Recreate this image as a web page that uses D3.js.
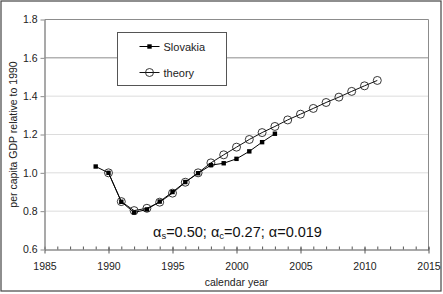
<!DOCTYPE html>
<html>
<head>
<meta charset="utf-8">
<script src="https://cdn.jsdelivr.net/npm/d3@7"></script>
<style>
  body { margin: 0; background: #fff; }
  svg { display: block; font-family: "Liberation Sans", Arial, sans-serif; }
</style>
</head>
<body>
<div class="chart"></div>
<script>
// Slovakia per capita GDP vs. theory

const slovakYears = [1989, 1990, 1991, 1992, 1993, 1994, 1995, 1996, 1997, 1998, 1999, 2000, 2001, 2002, 2003]
const slovakGdp = [1.033, 1.00, 0.849, 0.793, 0.809, 0.85, 0.90, 0.952, 0.998, 1.040, 1.050, 1.073, 1.112, 1.160, 1.204]

const theoryYears = [1990, 1991, 1992, 1993, 1994, 1995, 1996, 1997, 1998, 1999, 2000, 2001, 2002, 2003, 2004, 2005, 2006, 2007, 2008, 2009, 2010, 2011]
const theoryGdp = [1.00, 0.85, 0.803, 0.815, 0.847, 0.894, 0.951, 1.00, 1.052, 1.094, 1.134, 1.174, 1.210, 1.242, 1.276, 1.306, 1.336, 1.367, 1.395, 1.425, 1.454, 1.482]

const xTicks = [1985, 1990, 1995, 2000, 2005, 2010, 2015]
const yTicks = [0.6, 0.8, 1.0, 1.2, 1.4, 1.6, 1.8]

const svgWidth = 443
const svgHeight = 294
const margin = { top: 19.5, right: 14.5, bottom: 44.5, left: 44.5 }
const width = svgWidth - margin.left - margin.right
const height = svgHeight - margin.top - margin.bottom

const svg = d3.select('.chart').append('svg')
    .attr('width', svgWidth)
    .attr('height', svgHeight)

// outer frame
svg.append('rect')
    .attr('x', 1).attr('y', 1)
    .attr('width', 440).attr('height', 290)
    .attr('fill', 'none')
    .attr('stroke', '#444')
    .attr('stroke-width', 1.2)

const chartGroup = svg.append('g')
    .attr('transform', `translate(${margin.left}, ${margin.top})`)

const xScale = d3.scaleLinear().domain([1985, 2015]).range([0, width])
const yScale = d3.scaleLinear().domain([0.6, 1.8]).range([height, 0])

// gridlines
chartGroup.selectAll('.grid')
    .data(yTicks.slice(1))
    .enter()
    .append('line')
    .attr('x1', 0).attr('x2', width)
    .attr('y1', d => yScale(d)).attr('y2', d => yScale(d))
    .attr('stroke', d => d >= 1.6 ? '#8c8c8c' : '#dcdcdc')
    .attr('stroke-width', 1)

// right border of plot
chartGroup.append('line')
    .attr('x1', width).attr('x2', width)
    .attr('y1', 0).attr('y2', height)
    .attr('stroke', '#8c8c8c')

// minor x ticks, every year, pointing up
chartGroup.append('g')
    .attr('transform', `translate(0, ${height})`)
    .call(d3.axisBottom(xScale).ticks(30).tickSizeInner(-3).tickSizeOuter(0).tickFormat(''))
    .call(g => g.select('.domain').remove())
    .call(g => g.selectAll('line').attr('stroke', '#555'))

// major x axis
const xAxis = chartGroup.append('g')
    .attr('transform', `translate(0, ${height})`)
    .call(d3.axisBottom(xScale).tickValues(xTicks).tickFormat(d3.format('d')).tickSizeInner(4).tickSizeOuter(0).tickPadding(9))
xAxis.select('.domain').attr('stroke', '#555')
xAxis.selectAll('line').attr('stroke', '#555').attr('y1', -2)
xAxis.selectAll('text').attr('font-size', '10.5px').attr('fill', '#222').attr('font-family', null)

// y axis
const yAxis = chartGroup.append('g')
    .call(d3.axisLeft(yScale).tickValues(yTicks).tickFormat(d3.format('.1f')).tickSizeInner(4).tickSizeOuter(0).tickPadding(3))
yAxis.select('.domain').attr('stroke', '#8c8c8c').attr('stroke-width', 1.5)
yAxis.selectAll('line').attr('stroke', '#8c8c8c')
yAxis.selectAll('text').attr('font-size', '10.5px').attr('fill', '#222').attr('font-family', null)

// theory series
const theoryData = theoryYears.map((y, i) => ({ year: y, value: theoryGdp[i] }))
const slovakData = slovakYears.map((y, i) => ({ year: y, value: slovakGdp[i] }))

const line = d3.line().x(d => xScale(d.year)).y(d => yScale(d.value))

chartGroup.append('path')
    .datum(theoryData)
    .attr('d', line)
    .attr('fill', 'none')
    .attr('stroke', '#111')
    .attr('stroke-width', 1)

chartGroup.selectAll('.theory')
    .data(theoryData)
    .enter()
    .append('circle')
    .attr('cx', d => xScale(d.year))
    .attr('cy', d => yScale(d.value))
    .attr('r', 4)
    .attr('fill', 'none')
    .attr('stroke', '#222')
    .attr('stroke-width', 0.9)

chartGroup.append('path')
    .datum(slovakData)
    .attr('d', line)
    .attr('fill', 'none')
    .attr('stroke', '#000')
    .attr('stroke-width', 1)

chartGroup.selectAll('.slovak')
    .data(slovakData)
    .enter()
    .append('rect')
    .attr('x', d => xScale(d.year) - 2.2)
    .attr('y', d => yScale(d.value) - 2.2)
    .attr('width', 4.4)
    .attr('height', 4.4)
    .attr('fill', '#000')

// legend
const legend = svg.append('g').attr('transform', 'translate(117.5, 32.5)')
legend.append('rect')
    .attr('width', 109).attr('height', 53)
    .attr('fill', '#fff')
    .attr('stroke', '#555')
    .attr('stroke-width', 1)

legend.append('line').attr('x1', 22).attr('x2', 42).attr('y1', 14).attr('y2', 14).attr('stroke', '#000')
legend.append('rect').attr('x', 29.8).attr('y', 11.8).attr('width', 4.4).attr('height', 4.4).attr('fill', '#000')
legend.append('text').attr('x', 46).attr('y', 18).attr('font-size', '11px').attr('fill', '#222').text('Slovakia')

legend.append('line').attr('x1', 22).attr('x2', 42).attr('y1', 40).attr('y2', 40).attr('stroke', '#111')
legend.append('circle').attr('cx', 32).attr('cy', 40).attr('r', 4).attr('fill', 'none').attr('stroke', '#222').attr('stroke-width', 0.9)
legend.append('text').attr('x', 46).attr('y', 44).attr('font-size', '11px').attr('fill', '#222').text('theory')

// annotation
const note = svg.append('text')
    .attr('x', 153).attr('y', 237)
    .attr('font-size', '14.5px')
    .attr('fill', '#111')
note.append('tspan').text('α')
note.append('tspan').attr('font-size', '9.5px').attr('dy', 2).text('s')
note.append('tspan').attr('dy', -2).text('=0.50; α')
note.append('tspan').attr('font-size', '9.5px').attr('dy', 2).text('c')
note.append('tspan').attr('dy', -2).text('=0.27; α=0.019')

// axis titles
svg.append('text')
    .attr('transform', `translate(${margin.left + width / 2}, 286)`)
    .attr('text-anchor', 'middle')
    .attr('font-size', '10.5px')
    .attr('fill', '#222')
    .text('calendar year')

svg.append('text')
    .attr('transform', `translate(17, ${margin.top + height / 2}) rotate(-90)`)
    .attr('text-anchor', 'middle')
    .attr('font-size', '10.5px')
    .attr('fill', '#222')
    .text('per capita GDP relative to 1990')
</script>
</body>
</html>
